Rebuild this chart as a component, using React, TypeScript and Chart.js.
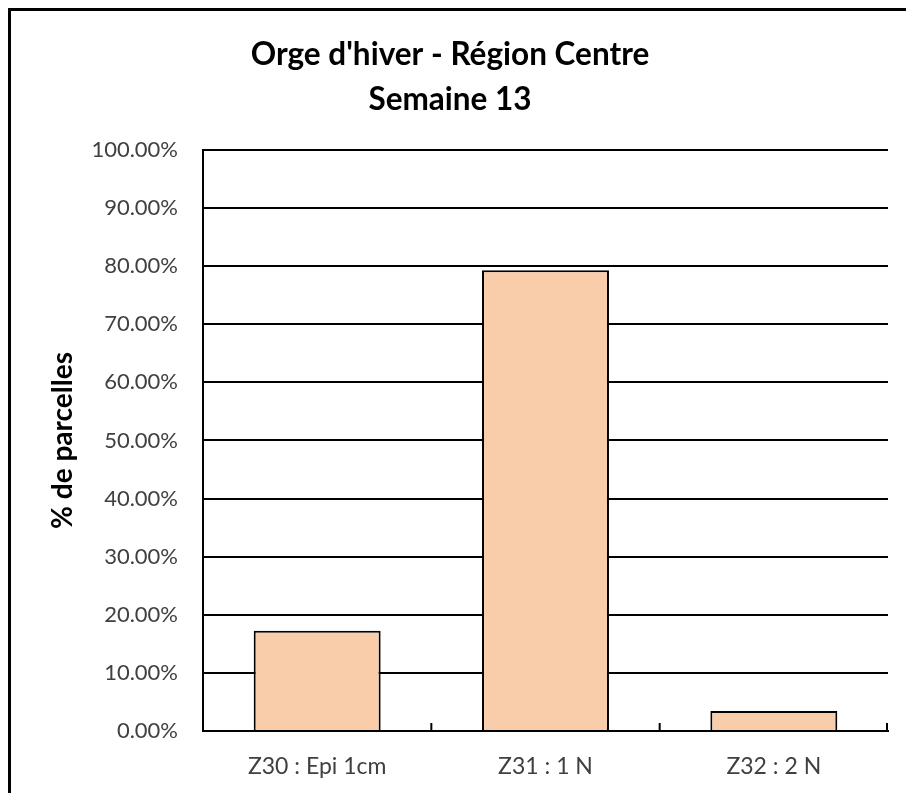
import React, { useEffect, useRef } from "react";
import { Chart, registerables } from "chart.js";

Chart.register(...registerables);

const categories = ["Z30 : Epi 1cm", "Z31 : 1 N", "Z32 : 2 N"];
const values = [0.1724, 0.7931, 0.0345];
const titleLines = ["Orge d'hiver - Région Centre", "Semaine 13"];
const yAxisTitle = "% de parcelles";

const FONT = "Lato, 'Open Sans', sans-serif";

const framePlugin = {
  id: "frame",
  afterDraw(chart: any) {
    const ctx = chart.ctx;
    ctx.save();
    ctx.strokeStyle = "#000";
    ctx.lineWidth = 3;
    ctx.strokeRect(9.5, 9.5, 1200, 1200);
    ctx.restore();
  },
};

const innerTicksPlugin = {
  id: "innerTicks",
  afterDatasetsDraw(chart: any) {
    const x = chart.scales.x;
    const ctx = chart.ctx;
    const n = chart.data.labels.length;
    const bottom = chart.chartArea.bottom;
    ctx.save();
    ctx.strokeStyle = "#000";
    ctx.lineWidth = 2;
    for (let i = 1; i <= n; i++) {
      let px;
      if (i === n) px = x.right - 1;
      else px = (x.getPixelForValue(i - 1) + x.getPixelForValue(i)) / 2;
      ctx.beginPath();
      ctx.moveTo(px, bottom);
      ctx.lineTo(px, bottom - 8);
      ctx.stroke();
    }
    ctx.restore();
  },
};

export default function App() {
  const ref = useRef<HTMLCanvasElement>(null);
  useEffect(() => {
    if (!ref.current) return;
    const chart = new Chart(ref.current, {
      type: "bar",
      data: {
        labels: categories,
        datasets: [
          {
            data: values,
            backgroundColor: "#FACDAA",
            borderColor: "#000",
            borderWidth: 2,
            barPercentage: 0.556,
            categoryPercentage: 1,
          },
        ],
      },
      options: {
        animation: false,
        responsive: false,
        layout: { padding: { left: 12, right: 18, top: 0, bottom: 0 } },
        plugins: {
          legend: { display: false },
          tooltip: { enabled: false },
          title: {
            display: true,
            text: titleLines,
            color: "#000",
            font: { family: FONT, size: 31.5, weight: "bold", lineHeight: 1.43 },
            padding: { top: 32.5, bottom: 27.4 },
          },
        },
        scales: {
          x: {
            afterFit(scale: any) {
              scale.height = 62;
            },
            grid: { display: false, drawTicks: false },
            border: { display: true, color: "#000", width: 2 },
            ticks: {
              color: "#404040",
              font: { family: FONT, size: 23, lineHeight: 1.2 },
              padding: 22,
            },
          },
          y: {
            min: 0,
            max: 1,
            afterFit(scale: any) {
              scale.width = 191;
            },
            grid: { color: "#000", lineWidth: 2, drawTicks: false },
            border: { display: true, color: "#000", width: 2 },
            ticks: {
              stepSize: 0.1,
              color: "#404040",
              font: { family: FONT, size: 22 },
              padding: 25,
              callback: (v: any) => (Number(v) * 100).toFixed(2) + "%",
            },
            title: {
              display: true,
              text: yAxisTitle,
              color: "#000",
              font: { family: FONT, size: 28, weight: "bold", lineHeight: 1.2 },
              padding: { top: 34, bottom: 0 },
            },
          },
        },
      },
      plugins: [framePlugin, innerTicksPlugin],
    });
    return () => chart.destroy();
  }, []);
  return (
    <div style={{ position: "absolute", left: 0, top: 0, width: 906, height: 793, background: "#fff", overflow: "hidden" }}>
      <canvas ref={ref} width={906} height={793} style={{ display: "block" }} />
    </div>
  );
}
